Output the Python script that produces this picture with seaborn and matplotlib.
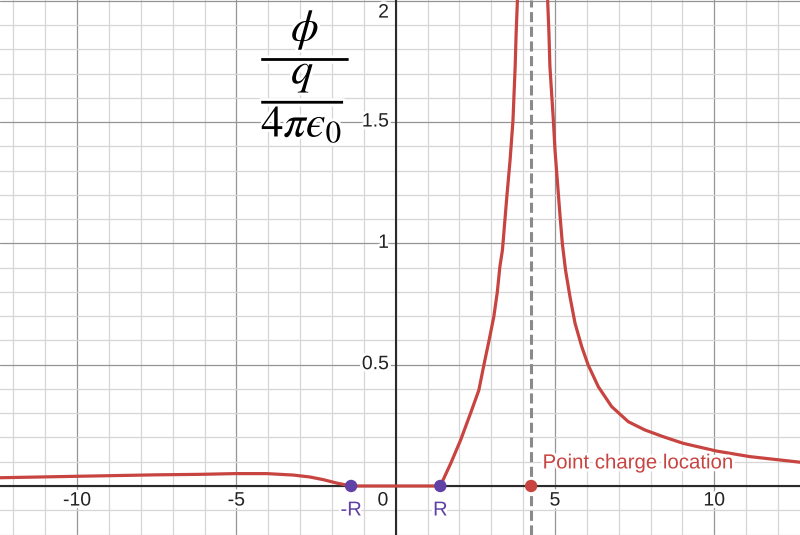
import numpy as np
import pandas as pd
import matplotlib
matplotlib.use("Agg")
import matplotlib.pyplot as plt
import matplotlib.patheffects as pe
from matplotlib.ticker import MultipleLocator
import seaborn as sns

# ---- data ----
# left / inner branch (from left edge up to the asymptote)
x_left = [-12.42, -10.0, -7.5, -6.14, -5.04, -4.05, -3.21, -2.69, -2.27,
          -1.85, -1.4, 0.0, 1.4, 1.73, 2.04, 2.35, 2.61, 2.77, 2.93,
          3.08, 3.19, 3.27, 3.35, 3.49, 3.59, 3.68, 3.75, 3.78, 3.82]
y_left = [0.034, 0.040, 0.046, 0.048, 0.051, 0.051, 0.045, 0.037, 0.026,
          0.012, 0.0, 0.0, 0.0, 0.094, 0.19, 0.30, 0.395, 0.50, 0.60,
          0.698, 0.80, 0.904, 0.972, 1.195, 1.343, 1.504, 1.73, 1.865, 2.0]
# right branch (from asymptote to the right edge)
x_right = [4.77, 4.81, 4.84, 4.95, 5.0, 5.08, 5.16, 5.23, 5.33, 5.47,
           5.63, 5.84, 6.04, 6.36, 6.78, 7.30, 7.82, 8.40, 9.02, 10.07,
           11.12, 12.69]
y_right = [2.0, 1.865, 1.73, 1.504, 1.384, 1.247, 1.110, 1.0, 0.890, 0.780,
           0.670, 0.574, 0.499, 0.409, 0.327, 0.265, 0.231, 0.203, 0.176,
           0.144, 0.121, 0.098]

R = 1.4
charge_x = 4.25
sphere_pts_x = [-R, R]
sphere_labels = ["-R", "R"]

x_tick_vals = [-10, -5, 5, 10]
x_tick_labels = ["-10", "-5", "5", "10"]
y_tick_vals = [0.5, 1.0, 1.5, 2.0]
y_tick_labels = ["0.5", "1", "1.5", "2"]

RED = "#c74440"
PURPLE = "#6042a6"

sns.set_theme(style="white")
plt.rcParams["font.family"] = ["Liberation Sans", "DejaVu Sans"]
plt.rcParams["mathtext.fontset"] = "stix"

fig = plt.figure(figsize=(8, 5.35), dpi=100)
ax = fig.add_axes([0, 0, 1, 1])
ax.set_xlim(-12.42, 12.69)
ax.set_ylim(-0.202, 2.003)

ax.xaxis.set_major_locator(MultipleLocator(5))
ax.xaxis.set_minor_locator(MultipleLocator(1))
ax.yaxis.set_major_locator(MultipleLocator(0.5))
ax.yaxis.set_minor_locator(MultipleLocator(0.1))
ax.grid(which="major", color="#959595", lw=0.9, zorder=0)
ax.grid(which="minor", color="#d6d6d6", lw=0.9, zorder=0)
ax.tick_params(which="both", length=0, labelbottom=False, labelleft=False)
for s in ax.spines.values():
    s.set_visible(False)

ax.axhline(0, color="#2b2b2b", lw=1.5, zorder=1)
ax.axvline(0, color="#2b2b2b", lw=1.5, zorder=1)

# dashed vertical line at the charge location
ax.axvline(charge_x, color="#8a8a8a", lw=2.2, ls=(0, (3.3, 1.5)), zorder=2)

df_l = pd.DataFrame({"x": x_left, "y": y_left})
df_r = pd.DataFrame({"x": x_right, "y": y_right})
sns.lineplot(data=df_l, x="x", y="y", sort=False, estimator=None,
             color=RED, lw=2.3, ax=ax, zorder=3)
sns.lineplot(data=df_r, x="x", y="y", sort=False, estimator=None,
             color=RED, lw=2.3, ax=ax, zorder=3)
for ln in ax.lines[-2:]:
    ln.set_solid_joinstyle("round")
    ln.set_solid_capstyle("round")

sns.scatterplot(x=sphere_pts_x, y=[0, 0], color=PURPLE, s=80,
                edgecolor="none", ax=ax, zorder=5)
sns.scatterplot(x=[charge_x], y=[0], color=RED, s=80,
                edgecolor="none", ax=ax, zorder=5)
ax.set_xlabel("")
ax.set_ylabel("")

halo = [pe.withStroke(linewidth=4, foreground="white")]
for xv, lab in zip(x_tick_vals, x_tick_labels):
    ax.text(xv, -0.062, lab, ha="center", va="center", fontsize=14,
            color="#222222", path_effects=halo, zorder=4)
ax.text(-0.40, -0.062, "0", ha="center", va="center", fontsize=14,
        color="#222222", path_effects=halo, zorder=4)
for yv, lab in zip(y_tick_vals, y_tick_labels):
    yy = yv if yv < 2 else 1.949
    ax.text(-0.21, yy, lab, ha="right", va="center", fontsize=14,
            color="#222222", path_effects=halo, zorder=4)

for xv, lab in zip(sphere_pts_x, sphere_labels):
    ax.text(xv, -0.099, lab, ha="center", va="center", fontsize=14.5,
            color=PURPLE, path_effects=halo, zorder=4)

ax.text(4.61, 0.095, "Point charge location", ha="left", va="center",
        fontsize=14.7, color=RED, path_effects=halo, zorder=4)

ax.text(306 / 800, 1 - 77 / 535,
        "$\\dfrac{\\phi}{\\dfrac{q}{4\\pi\u03f5_0}}$",
        transform=ax.transAxes, ha="center", va="center", fontsize=32,
        color="black", path_effects=halo, zorder=4)

fig.savefig("out.png", dpi=100)
